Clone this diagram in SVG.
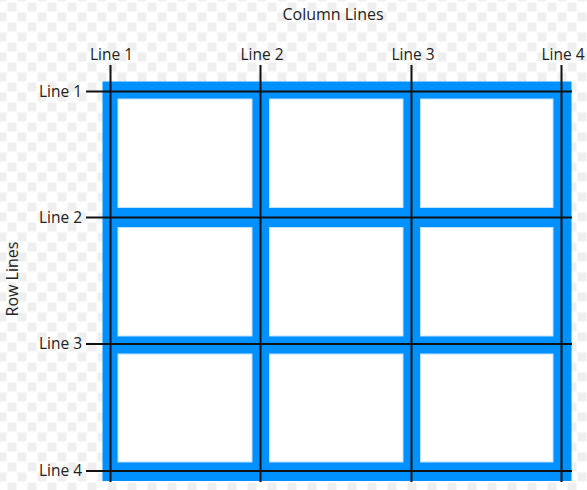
<svg xmlns="http://www.w3.org/2000/svg" width="587" height="490" viewBox="0 0 587 490">
  <defs>
    <pattern id="checker" x="7" y="2" width="20" height="20" patternUnits="userSpaceOnUse">
      <rect width="20" height="20" fill="#ffffff"/>
      <rect x="0.5" y="0.5" width="9" height="9" fill="#efefef"/>
      <rect x="10.5" y="10.5" width="9" height="9" fill="#efefef"/>
    </pattern>
    <style>
      .lbl { font-family: "Open Sans", "Liberation Sans", sans-serif; font-size: 15.5px; fill: #222; }
      .title { font-family: "Open Sans", "Liberation Sans", sans-serif; font-size: 16px; fill: #222; }
      .cell { fill: #ffffff; stroke: #bfe2ff; stroke-width: 1; }
      .gl { stroke: #111; stroke-width: 2; fill: none; }
    </style>
  </defs>
  <rect width="587" height="490" fill="url(#checker)"/>

  <g id="grid-container">
    <rect x="102.5" y="81.5" width="469" height="399.5" fill="#0091ff"/>
  </g>

  <g id="cell-1-1"><rect class="cell" x="118" y="99" width="134" height="108.5"/></g>
  <g id="cell-1-2"><rect class="cell" x="269.5" y="99" width="133.5" height="108.5"/></g>
  <g id="cell-1-3"><rect class="cell" x="420.5" y="99" width="132.5" height="108.5"/></g>
  <g id="cell-2-1"><rect class="cell" x="118" y="227.5" width="134" height="108.5"/></g>
  <g id="cell-2-2"><rect class="cell" x="269.5" y="227.5" width="133.5" height="108.5"/></g>
  <g id="cell-2-3"><rect class="cell" x="420.5" y="227.5" width="132.5" height="108.5"/></g>
  <g id="cell-3-1"><rect class="cell" x="118" y="354" width="134" height="108"/></g>
  <g id="cell-3-2"><rect class="cell" x="269.5" y="354" width="133.5" height="108"/></g>
  <g id="cell-3-3"><rect class="cell" x="420.5" y="354" width="132.5" height="108"/></g>

  <g id="connectors">
    <line class="gl" x1="110.5" y1="65" x2="110.5" y2="482"/>
    <line class="gl" x1="260.5" y1="65" x2="260.5" y2="482"/>
    <line class="gl" x1="411.5" y1="65" x2="411.5" y2="482"/>
    <line class="gl" x1="561.5" y1="65" x2="561.5" y2="482"/>
    <line class="gl" x1="86" y1="91.5" x2="572" y2="91.5"/>
    <line class="gl" x1="86" y1="217.5" x2="572" y2="217.5"/>
    <line class="gl" x1="86" y1="344" x2="572" y2="344"/>
    <line class="gl" x1="86" y1="471" x2="572" y2="471"/>
  </g>

  <g id="labels">
    <text class="title" x="333" y="20" text-anchor="middle">Column Lines</text>
    <text class="title" transform="translate(17.5,279) rotate(-90)" text-anchor="middle">Row Lines</text>
    <text class="lbl" x="111.5" y="60" text-anchor="middle">Line 1</text>
    <text class="lbl" x="262" y="60" text-anchor="middle">Line 2</text>
    <text class="lbl" x="413" y="60" text-anchor="middle">Line 3</text>
    <text class="lbl" x="563" y="60" text-anchor="middle">Line 4</text>
    <text class="lbl" x="82" y="96.5" text-anchor="end">Line 1</text>
    <text class="lbl" x="82" y="222.5" text-anchor="end">Line 2</text>
    <text class="lbl" x="82" y="349" text-anchor="end">Line 3</text>
    <text class="lbl" x="82" y="476" text-anchor="end">Line 4</text>
  </g>
</svg>
